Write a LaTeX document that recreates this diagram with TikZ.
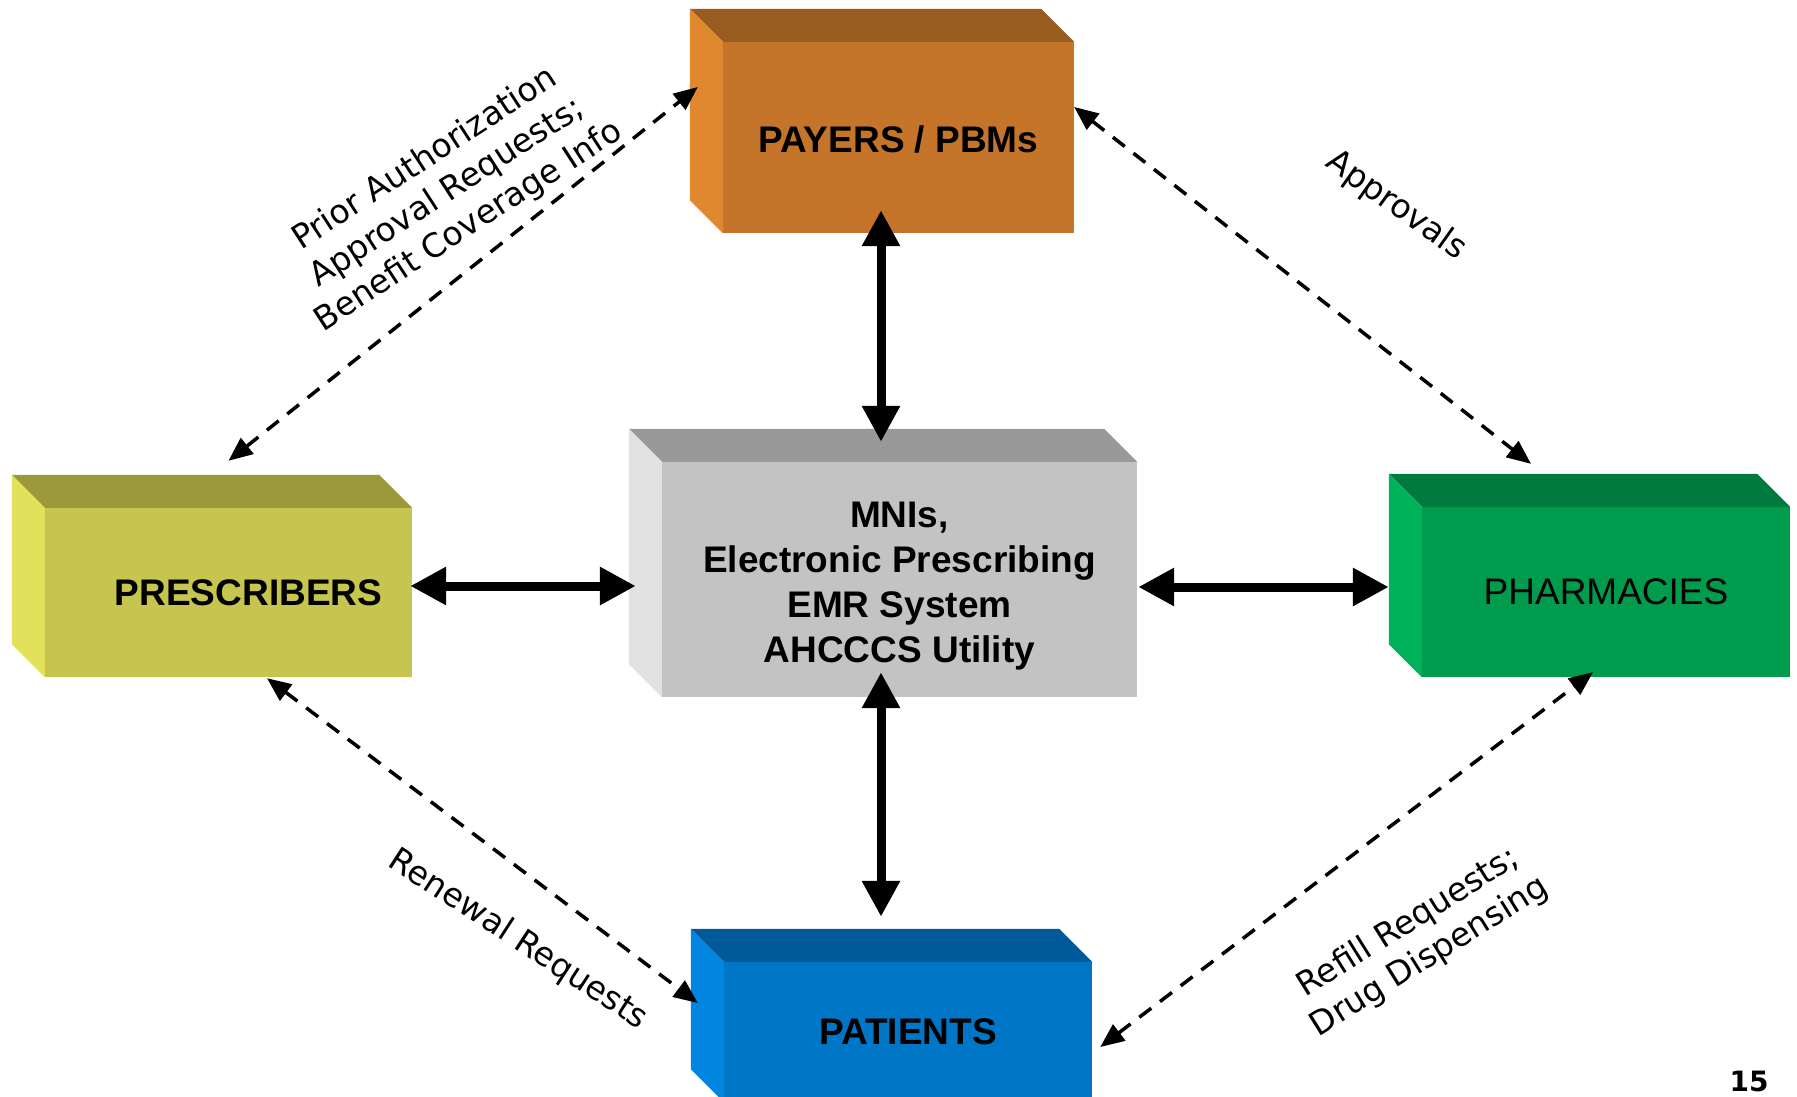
\documentclass[tikz,border=0pt]{standalone}
\usepackage{fontspec}
\setmainfont{Liberation Sans}
\newfontfamily\labelfont{DejaVu Sans}
\usepackage{tikz}
\usetikzlibrary{arrows.meta}

\definecolor{payfront}{HTML}{C47529}
\definecolor{paytop}{HTML}{975C1E}
\definecolor{payleft}{HTML}{E0882F}
\definecolor{ctrfront}{HTML}{C3C3C3}
\definecolor{ctrtop}{HTML}{999999}
\definecolor{ctrleft}{HTML}{E1E1E1}
\definecolor{prefront}{HTML}{C5C54F}
\definecolor{pretop}{HTML}{9A9A3A}
\definecolor{preleft}{HTML}{E1E15B}
\definecolor{phafront}{HTML}{009B4C}
\definecolor{phatop}{HTML}{007A3D}
\definecolor{phaleft}{HTML}{00B259}
\definecolor{patfront}{HTML}{0077C6}
\definecolor{pattop}{HTML}{005A9A}
\definecolor{patleft}{HTML}{0085E0}

\tikzstyle{slab} = [inner sep=0pt, align=center, font=\fontsize{37}{45}\selectfont\bfseries]
\tikzstyle{bigarrow} = [line width=9pt, {Triangle[length=36pt,width=36pt]}-{Triangle[length=36pt,width=36pt]}]
\tikzstyle{dasharrow} = [line width=3.5pt, dash pattern=on 15pt off 11pt, {Triangle[length=24pt,width=20pt]}-{Triangle[length=24pt,width=20pt]}]
\tikzstyle{flowlabel} = [align=center, inner sep=0pt, font=\labelfont\fontsize{33}{40}\selectfont]

% top and left faces behind a front face
\newcommand{\slabsides}[3]{%
\fill[#2] (#1.north west) -- ++(-33,-33) -- ([shift={(-33pt,33pt)}]#1.north east) -- (#1.north east) -- cycle;
\fill[#3] (#1.north west) -- ++(-33,-33) -- ([shift={(-33pt,33pt)}]#1.south west) -- (#1.south west) -- cycle;
}

\begin{document}
\begin{tikzpicture}[x=1pt,y=-1pt]
\clip (0,0) rectangle (1797,1097);
\fill[white] (0,0) rectangle (1797,1097);

\node[slab, fill=payfront, minimum width=351pt, minimum height=191pt] (pay) at (898.5,137.5) {\rule{0pt}{31pt}PAYERS / PBMs};
\node[slab, fill=ctrfront, minimum width=475pt, minimum height=235pt] (ctr) at (899.5,579.5) {\rule{0pt}{39pt}MNIs,\\Electronic Prescribing\\EMR System\\AHCCCS Utility};
\node[slab, fill=prefront, minimum width=367pt, minimum height=169pt] (pre) at (228.5,592.5) {\hspace*{40pt}PRESCRIBERS};
\node[slab, fill=phafront, minimum width=368pt, minimum height=170pt, font=\fontsize{37}{45}\selectfont] (pha) at (1606,592) {PHARMACIES};
\node[slab, fill=patfront, minimum width=368pt, minimum height=140pt] (pat) at (908,1032) {PATIENTS};

\foreach \n/\t/\l in {pay/paytop/payleft, ctr/ctrtop/ctrleft, pre/pretop/preleft, pha/phatop/phaleft, pat/pattop/patleft}
{
\slabsides{\n}{\t}{\l}
}

\draw[bigarrow, shorten <=-23pt, shorten >=20pt] ([xshift=-17.5pt]pay.south) -- ([xshift=-18.5pt]ctr.north);
\draw[bigarrow, shorten <=-25pt, shorten >=45pt] ([xshift=-18.5pt]ctr.south) -- ([xshift=-27pt]pat.north);
\draw[bigarrow, shorten <=-2pt, shorten >=26pt] ([yshift=6.5pt]pre.east) -- ([yshift=-6.5pt]ctr.west);
\draw[bigarrow, shorten <=1pt, shorten >=33pt] ([yshift=-7.5pt]ctr.east) -- ([yshift=5pt]pha.west);

\draw[dasharrow] ([yshift=47pt]pre.north) -- ([shift={(-25pt,50.5pt)}]pay.west);
\draw[dasharrow] ([yshift=30.5pt]pay.east) -- ([shift={(-75pt,43pt)}]pha.north);
\draw[dasharrow] ([shift={(38.5pt,-1pt)}]pre.south) -- ([shift={(-26pt,29pt)}]pat.west);
\draw[dasharrow] ([shift={(8pt,-15pt)}]pat.east) -- ([shift={(-13pt,5pt)}]pha.south);

\node[flowlabel, rotate=33] (lblpa) at (447,193) {Prior Authorization\\Approval Requests;\\Benefit Coverage Info};
\node[flowlabel, rotate=-35.5] (lblap) at (1396,206) {Approvals};
\node[flowlabel, rotate=-33] (lblrn) at (518,940) {Renewal Requests};
\node[flowlabel, rotate=32] (lblrf) at (1419,940) {Refill Requests;\\Drug Dispensing};
\node[font=\labelfont\bfseries\fontsize{28}{30}\selectfont] (pgnum) at (1749,1081) {15};
\end{tikzpicture}
\end{document}
